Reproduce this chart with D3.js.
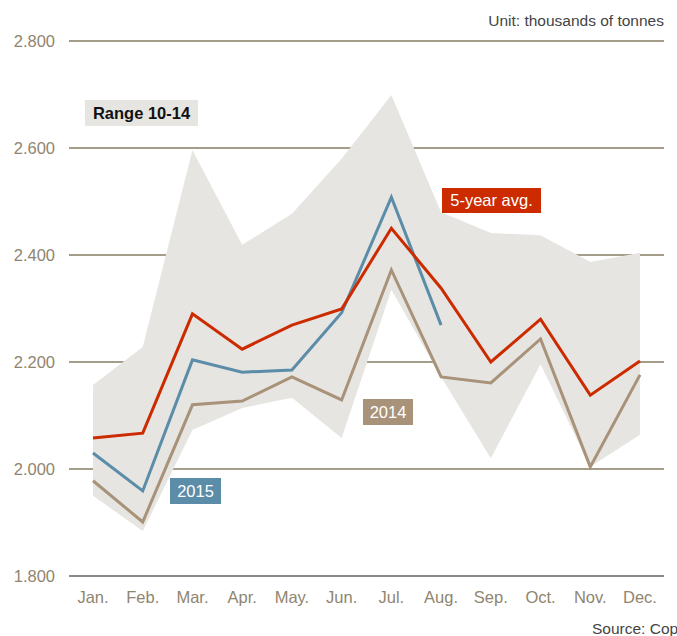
<!DOCTYPE html>
<html>
<head>
<meta charset="utf-8">
<script src="https://cdn.jsdelivr.net/npm/d3@7"></script>
<style>
  body { margin: 0; background: #fff; }
  svg { font-family: "Liberation Sans", Arial, sans-serif; display: block; }
</style>
</head>
<body>
<svg width="677" height="636"></svg>
<script>
var months = ["Jan.", "Feb.", "Mar.", "Apr.", "May.", "Jun.", "Jul.", "Aug.", "Sep.", "Oct.", "Nov.", "Dec."];
var yTicks = [1800, 2000, 2200, 2400, 2600, 2800];

// range 2010-2014 (min / max)
var rangeHigh = [2157, 2228, 2596, 2419, 2477, 2580, 2699, 2480, 2441, 2437, 2387, 2404];
var rangeLow  = [1950, 1884, 2073, 2114, 2133, 2058, 2335, 2172, 2020, 2196, 2004, 2064];

var avg5  = [2058, 2067, 2290, 2224, 2269, 2299, 2450, 2338, 2200, 2280, 2138, 2202];
var y2014 = [1978, 1901, 2120, 2127, 2172, 2129, 2372, 2172, 2161, 2243, 2004, 2176];
var y2015 = [2030, 1959, 2204, 2181, 2185, 2292, 2508, 2269];

var svg = d3.select("svg");

var x = d3.scalePoint().domain(months).range([93, 640]);
var y = d3.scaleLinear().domain([1800, 2800]).range([576, 41]);

var fmt = d3.formatLocale({decimal: ",", thousands: ".", grouping: [3], currency: ["", ""]}).format(",");

// grid
svg.append("g").selectAll("line")
  .data(yTicks)
  .enter().append("line")
  .attr("x1", 69).attr("x2", 664)
  .attr("y1", function(d) { return y(d); })
  .attr("y2", function(d) { return y(d); })
  .attr("stroke", function(d) { return d === 1800 ? "#8c8a86" : "#a39d8a"; })
  .attr("stroke-width", 2);

svg.append("g").selectAll("text")
  .data(yTicks)
  .enter().append("text")
  .attr("x", 55)
  .attr("y", function(d) { return y(d); })
  .attr("dy", "0.35em")
  .attr("text-anchor", "end")
  .attr("fill", "#8f8570")
  .attr("font-size", 16.5)
  .text(function(d) { return fmt(d); });

// range band
var area = d3.area()
  .x(function(d, i) { return x(months[i]); })
  .y0(function(d, i) { return y(rangeLow[i]); })
  .y1(function(d) { return y(d); });

svg.append("path")
  .datum(rangeHigh)
  .attr("d", area)
  .attr("fill", "#e6e5e1");

var line = d3.line()
  .x(function(d, i) { return x(months[i]); })
  .y(function(d) { return y(d); });

var series = [
  {values: y2014, color: "#a89279"},
  {values: y2015, color: "#5b8ca8"},
  {values: avg5,  color: "#cc2b00"}
];

series.forEach(function(s) {
  svg.append("path")
    .datum(s.values)
    .attr("d", line)
    .attr("fill", "none")
    .attr("stroke", s.color)
    .attr("stroke-width", 3)
    .attr("stroke-linejoin", "miter");
});

// x labels
svg.append("g").selectAll("text")
  .data(months)
  .enter().append("text")
  .attr("x", function(d) { return x(d); })
  .attr("y", 603)
  .attr("text-anchor", "middle")
  .attr("fill", "#8f8570")
  .attr("font-size", 16.5)
  .text(function(d) { return d; });

// labels
function tag(x0, y0, w, h, fill, color, txt, bold) {
  svg.append("rect").attr("x", x0).attr("y", y0).attr("width", w).attr("height", h).attr("fill", fill);
  svg.append("text")
    .attr("x", x0 + w / 2).attr("y", y0 + h / 2).attr("dy", "0.36em")
    .attr("text-anchor", "middle")
    .attr("fill", color)
    .attr("font-size", 16.5)
    .attr("font-weight", bold ? "bold" : "normal")
    .text(txt);
}
tag(85, 100, 113, 26, "#e6e5e1", "#111", "Range 10-14", true);
tag(442, 188, 99, 25, "#cc2b00", "#fff", "5-year avg.", false);
tag(363, 399, 50, 26, "#a89279", "#fff", "2014", false);
tag(170, 478, 51, 26, "#5b8ca8", "#fff", "2015", false);

svg.append("text")
  .attr("x", 664).attr("y", 26)
  .attr("text-anchor", "end")
  .attr("fill", "#444")
  .attr("font-size", 15.5)
  .text("Unit: thousands of tonnes");

svg.append("text")
  .attr("x", 592).attr("y", 634)
  .attr("fill", "#444")
  .attr("font-size", 15.5)
  .text("Source: Copa-Cogeca");
</script>
</body>
</html>
